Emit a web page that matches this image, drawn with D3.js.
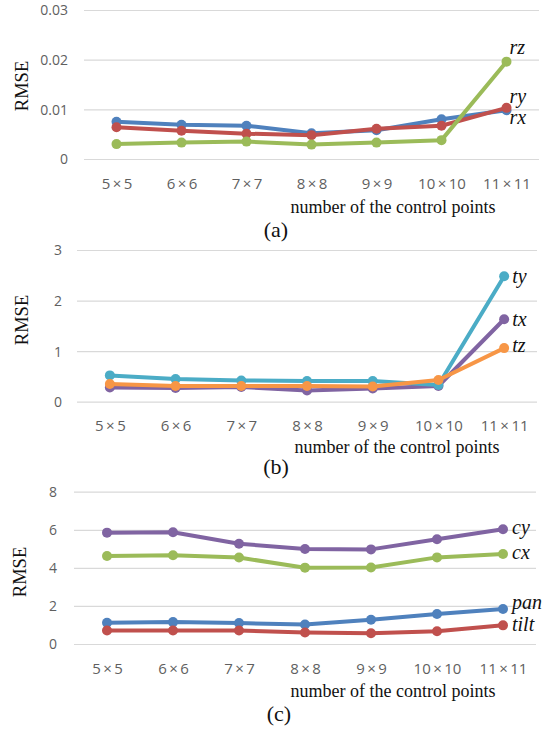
<!DOCTYPE html>
<html>
<head>
<meta charset="utf-8">
<script src="https://cdn.jsdelivr.net/npm/d3@7"></script>
<style>
  body { margin: 0; background: #fff; }
  svg { display: block; }
</style>
</head>
<body>
<svg id="chart" width="547" height="731"></svg>
<script>
// categories on the x axis
const categories = ["5×5", "6×6", "7×7", "8×8", "9×9", "10×10", "11×11"];

// (a) rotation errors
const rx = [0.0075, 0.0069, 0.0067, 0.0052, 0.0058, 0.0080, 0.0098];
const ry = [0.0064, 0.0057, 0.0051, 0.0048, 0.0061, 0.0067, 0.0103];
const rz = [0.0030, 0.0033, 0.0035, 0.0029, 0.0033, 0.0038, 0.0196];
const ticksA = [0, 0.01, 0.02, 0.03];

// (b) translation errors
const tx = [0.28, 0.27, 0.29, 0.22, 0.26, 0.31, 1.63];
const ty = [0.52, 0.45, 0.42, 0.41, 0.41, 0.33, 2.48];
const tz = [0.35, 0.31, 0.31, 0.31, 0.30, 0.43, 1.06];
const ticksB = [0, 1, 2, 3];

// (c) camera parameters
const pan = [1.12, 1.15, 1.10, 1.02, 1.27, 1.58, 1.84];
const tilt = [0.71, 0.71, 0.71, 0.60, 0.56, 0.67, 0.98];
const cx = [4.62, 4.66, 4.54, 4.01, 4.02, 4.55, 4.73];
const cy = [5.85, 5.87, 5.27, 4.99, 4.97, 5.50, 6.03];
const ticksC = [0, 2, 4, 6, 8];

const axisTitle = "number of the control points";

const SANS = "Open Sans";
const SERIF = "Liberation Serif";

const panels = [
  {
    tag: "(a)", ticks: ticksA, fmt: d => d === 0 ? "0" : d3.format(".2f")(d),
    x0: 84, x1: 539, y0: 159, y1: 10, tickRight: 68,
    xTickY: 189, titleX: 393, titleY: 213, tagX: 276, tagY: 237, rmseX: 22, rmseY: 86,
    series: [
      { name: "rx", values: rx, color: "#4F81BD", dx: 3, dy: 7 },
      { name: "ry", values: ry, color: "#C0504D", dx: 3, dy: -11 },
      { name: "rz", values: rz, color: "#9BBB59", dx: 3, dy: -14 }
    ]
  },
  {
    tag: "(b)", ticks: ticksB, fmt: d3.format("d"),
    x0: 77, x1: 537, y0: 401.7, y1: 250, tickRight: 62,
    xTickY: 431, titleX: 397, titleY: 453, tagX: 276, tagY: 474, rmseX: 22, rmseY: 320,
    series: [
      { name: "tx", values: tx, color: "#8064A2", dx: 8, dy: 0 },
      { name: "ty", values: ty, color: "#4BACC6", dx: 8, dy: 0 },
      { name: "tz", values: tz, color: "#F79646", dx: 8, dy: -2 }
    ]
  },
  {
    tag: "(c)", ticks: ticksC, fmt: d3.format("d"),
    x0: 74, x1: 536, y0: 644, y1: 491.7, tickRight: 57,
    xTickY: 674, titleX: 393, titleY: 697, tagX: 279, tagY: 721, rmseX: 20, rmseY: 572,
    series: [
      { name: "pan", values: pan, color: "#4F81BD", dx: 9, dy: -6 },
      { name: "tilt", values: tilt, color: "#C0504D", dx: 9, dy: -1 },
      { name: "cx", values: cx, color: "#9BBB59", dx: 9, dy: -1 },
      { name: "cy", values: cy, color: "#8064A2", dx: 9, dy: -2 }
    ]
  }
];

const svg = d3.select("#chart");

panels.forEach(p => {
  const g = svg.append("g");
  const x = d3.scalePoint().domain(categories).range([p.x0, p.x1]).padding(0.5);
  const y = d3.scaleLinear().domain(d3.extent(p.ticks)).range([p.y0, p.y1]);

  // gridlines + y labels
  const yAxis = d3.axisLeft(y).tickValues(p.ticks).tickSize(-(p.x1 - p.x0)).tickFormat(p.fmt);
  const ya = g.append("g").attr("transform", "translate(" + p.x0 + ",0)").call(yAxis);
  ya.attr("font-family", SANS).attr("font-size", 14);
  ya.select(".domain").remove();
  ya.selectAll("line").attr("stroke", "#d9d9d9").attr("stroke-width", 1.2);
  ya.selectAll("text")
    .attr("x", p.tickRight - p.x0).attr("dy", "0.35em")
    .attr("fill", "#5f5f5f");

  // x labels
  const xAxis = d3.axisBottom(x).tickSize(0).tickFormat(d => d.replace("×", "\u2009×\u2009"));
  const xa = g.append("g").attr("transform", "translate(0," + p.y0 + ")").call(xAxis);
  xa.attr("font-family", SANS).attr("font-size", 15);
  xa.select(".domain").remove();
  xa.selectAll("text")
    .attr("y", p.xTickY - p.y0).attr("dy", 0)
    .attr("fill", "#5f5f5f");

  const line = d3.line().x((d, i) => x(categories[i])).y(d => y(d));

  p.series.forEach(s => {
    g.append("path")
      .attr("d", line(s.values))
      .attr("fill", "none")
      .attr("stroke", s.color)
      .attr("stroke-width", 4)
      .attr("stroke-linejoin", "round");
    g.selectAll(null).data(s.values).enter().append("circle")
      .attr("cx", (d, i) => x(categories[i]))
      .attr("cy", d => y(d))
      .attr("r", 5)
      .attr("fill", s.color);
  });

  // series names at the last point
  p.series.forEach(s => {
    const last = s.values.length - 1;
    g.append("text")
      .attr("x", x(categories[last]) + s.dx)
      .attr("y", y(s.values[last]) + s.dy)
      .attr("dy", "0.32em")
      .attr("fill", "#111")
      .attr("font-family", SERIF)
      .attr("font-style", "italic")
      .attr("font-size", 20)
      .text(s.name);
  });

  g.append("text")
    .attr("transform", "translate(" + p.rmseX + "," + p.rmseY + ") rotate(-90)")
    .attr("text-anchor", "middle")
    .attr("dy", "0.35em")
    .attr("fill", "#111")
    .attr("font-family", SERIF)
    .attr("font-size", 18.5)
    .text("RMSE");

  g.append("text")
    .attr("x", p.titleX).attr("y", p.titleY)
    .attr("text-anchor", "middle")
    .attr("fill", "#111")
    .attr("font-family", SERIF)
    .attr("font-size", 18)
    .text(axisTitle);

  g.append("text")
    .attr("x", p.tagX).attr("y", p.tagY)
    .attr("text-anchor", "middle")
    .attr("fill", "#111")
    .attr("font-family", SERIF)
    .attr("font-size", 22)
    .text(p.tag);
});
</script>
</body>
</html>
